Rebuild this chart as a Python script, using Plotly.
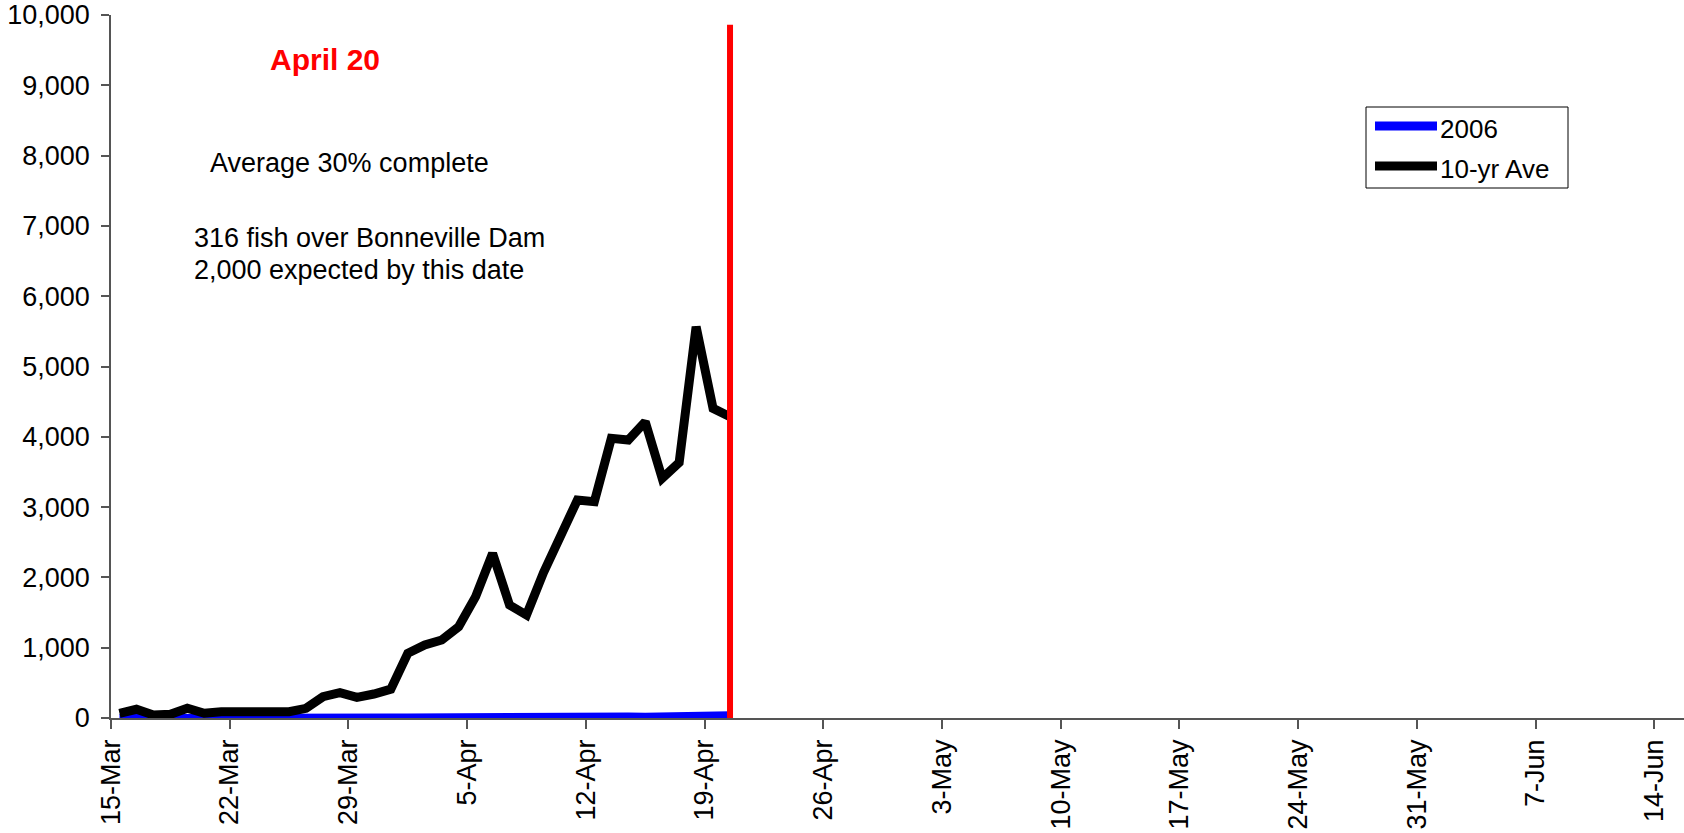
import pandas as pd
import plotly.graph_objects as go

# Daily counts, 15-Mar through 20-Apr
start_date = "2006-03-15"
n_days = 37
counts_2006 = [8, 10, 6, 8, 12, 8, 7, 9, 8, 7,
               9, 10, 12, 14, 12, 14, 15, 16, 18, 20,
               24, 30, 32, 26, 22, 20, 21, 22, 24, 26,
               28, 25, 28, 32, 40, 42, 45]
counts_10yr = [67, 124, 43, 52, 138, 67, 90, 90, 104, 81,
               90, 138, 303, 360, 294, 341, 410, 920, 1038, 1110,
               1299, 1726, 2342, 1607, 1465, 2067, 2600, 3101, 3077, 3979,
               3955, 4215, 3409, 3632, 5566, 4405, 4286]
series_names = ["2006", "10-yr Ave"]
series_colors = ["#0000ff", "#000000"]

marker_date = "2006-04-20"
marker_label = "April 20"
marker_top = 9860
notes = ["Average 30% complete",
         "316 fish over Bonneville Dam",
         "2,000 expected by this date"]

y_ticks = list(range(0, 10001, 1000))
x_range = ["2006-03-15", "2006-06-15 18:00"]

# Points sit in the middle of each day's slot
dates = pd.date_range(start_date, periods=n_days, freq="D") + pd.Timedelta(hours=12)
marker_x = pd.Timestamp(marker_date) + pd.Timedelta(hours=12)

W, H = 1684, 833
L, R, T, B = 111, 0, 15, 115
FONT = "Liberation Sans, Arial, sans-serif"


def px(x):
    return (x - L) / (W - L - R)


def py(y):
    return (H - B - y) / (H - T - B)


fig = go.Figure()
# 2006 drawn first so the 10-yr average sits on top
fig.add_trace(go.Scatter(x=dates, y=counts_2006, mode="lines", name=series_names[0],
                         line=dict(color=series_colors[0], width=7), showlegend=False))
fig.add_trace(go.Scatter(x=dates, y=counts_10yr, mode="lines", name=series_names[1],
                         line=dict(color=series_colors[1], width=9), showlegend=False))

shapes = [
    dict(type="line", xref="x", yref="y", x0=marker_x, x1=marker_x, y0=0, y1=marker_top,
         line=dict(color="#ff0000", width=6)),
    # legend frame and swatches
    dict(type="rect", xref="paper", yref="paper", x0=px(1366), x1=px(1568),
         y0=py(188), y1=py(107), line=dict(color="#000000", width=1), fillcolor="white"),
]
for i, (name, col) in enumerate(zip(series_names, series_colors)):
    yy = py(126 + 40 * i)
    shapes.append(dict(type="line", xref="paper", yref="paper", x0=px(1375), x1=px(1437),
                       y0=yy, y1=yy, line=dict(color=col, width=9)))
fig.update_layout(shapes=shapes)

annotations = [
    dict(text="<b>" + marker_label + "</b>", x=px(268), y=py(60),
         font=dict(size=30, color="#ff0000", family=FONT)),
    dict(text=notes[0], x=px(208), y=py(163), font=dict(size=27, color="black", family=FONT)),
    dict(text=notes[1], x=px(192), y=py(238), font=dict(size=27, color="black", family=FONT)),
    dict(text=notes[2], x=px(192), y=py(270), font=dict(size=27, color="black", family=FONT)),
]
for i, name in enumerate(series_names):
    annotations.append(dict(text=name, x=px(1438), y=py(129 + 40 * i),
                            font=dict(size=26, color="black", family=FONT)))
for a in annotations:
    a.update(xref="paper", yref="paper", xanchor="left", yanchor="middle", showarrow=False)
fig.update_layout(annotations=annotations)

fig.update_layout(
    width=W, height=H,
    margin=dict(l=L, r=R, t=T, b=B, pad=0),
    paper_bgcolor="white", plot_bgcolor="white",
    font=dict(family=FONT, size=27, color="black"),
    showlegend=False,
)
fig.update_xaxes(
    type="date", range=x_range, tick0="2006-03-15", dtick=7 * 24 * 3600 * 1000,
    tickformat="%-d-%b", tickangle=-90, ticks="outside", ticklen=9, tickwidth=1.5,
    tickcolor="#555555", showline=True, linecolor="#555555", linewidth=1.5,
    showgrid=False, zeroline=False, automargin=False,
    tickfont=dict(size=27, color="black", family=FONT),
)
fig.update_yaxes(
    range=[0, 10000], tickvals=y_ticks, tickformat=",", ticks="outside", ticklen=8,
    tickwidth=1.5, tickcolor="#555555", showline=True, linecolor="#555555", linewidth=1.5,
    showgrid=False, zeroline=False, automargin=False, ticklabelstandoff=6,
    tickfont=dict(size=27, color="black", family=FONT),
)

fig.write_html("out.html", config={"displayModeBar": False})
